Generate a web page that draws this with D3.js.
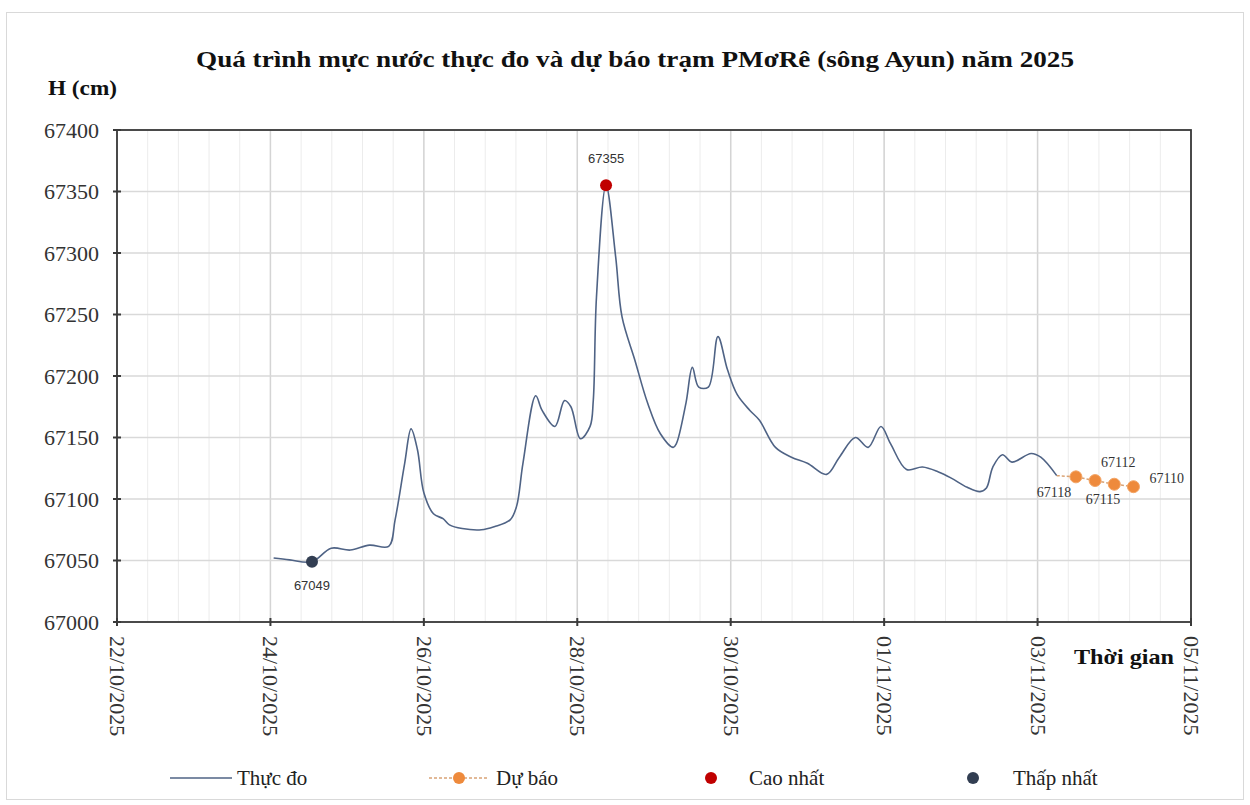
<!DOCTYPE html>
<html>
<head>
<meta charset="utf-8">
<script src="https://cdn.jsdelivr.net/npm/d3@7"></script>
<style>
  html, body { margin: 0; padding: 0; background: #fff; }
  svg text { font-family: "Liberation Serif", "Times New Roman", serif; }
</style>
</head>
<body>
<svg id="chart" width="1250" height="805"></svg>
<script>
// ---------------- DATA ----------------
const obsTime = [
  "24/10/2025 01:00","24/10/2025 06:00","24/10/2025 13:00","24/10/2025 19:00",
  "25/10/2025 01:00","25/10/2025 07:00","25/10/2025 13:00","25/10/2025 15:00",
  "25/10/2025 18:00","25/10/2025 20:00","25/10/2025 22:00","26/10/2025 00:00",
  "26/10/2025 03:00","26/10/2025 06:00","26/10/2025 08:00","26/10/2025 12:00",
  "26/10/2025 18:00","26/10/2025 22:00","27/10/2025 03:00","27/10/2025 05:00",
  "27/10/2025 07:00","27/10/2025 11:00","27/10/2025 13:00","27/10/2025 17:00",
  "27/10/2025 20:00","27/10/2025 22:00","28/10/2025 01:00","28/10/2025 04:00",
  "28/10/2025 05:00","28/10/2025 06:00","28/10/2025 09:00","28/10/2025 12:00",
  "28/10/2025 14:00","28/10/2025 18:00","28/10/2025 22:00","29/10/2025 02:00",
  "29/10/2025 06:00","29/10/2025 07:00","29/10/2025 10:00","29/10/2025 12:00",
  "29/10/2025 14:00","29/10/2025 17:00","29/10/2025 20:00","29/10/2025 23:00",
  "30/10/2025 02:00","30/10/2025 06:00","30/10/2025 09:00","30/10/2025 14:00",
  "30/10/2025 19:00","31/10/2025 00:00","31/10/2025 06:00","31/10/2025 10:00",
  "31/10/2025 15:00","31/10/2025 19:00","31/10/2025 23:00","01/11/2025 02:00",
  "01/11/2025 07:00","01/11/2025 12:00","01/11/2025 17:00","01/11/2025 21:00",
  "02/11/2025 02:00","02/11/2025 06:00","02/11/2025 08:00","02/11/2025 10:00",
  "02/11/2025 13:00","02/11/2025 16:00","02/11/2025 22:00","03/11/2025 01:00",
  "03/11/2025 06:00"
];
const obsValue = [
  67052, 67050.5, 67049, 67060,
  67058.5, 67062.5, 67061.5, 67083,
  67129, 67157, 67140, 67105,
  67088, 67084, 67079, 67076,
  67075, 67077.5, 67083, 67094,
  67129, 67184, 67172, 67159,
  67180, 67175, 67149, 67159,
  67180, 67264, 67355, 67297,
  67248, 67213, 67178, 67153,
  67142, 67145, 67178, 67207,
  67191, 67191, 67232, 67205,
  67185, 67172, 67164, 67142,
  67134, 67129, 67120, 67134,
  67150, 67142, 67159, 67145,
  67124, 67126, 67122, 67117,
  67109.5, 67106, 67109, 67126,
  67136, 67130, 67137, 67134,
  67119
];
const fcTime  = ["03/11/2025 12:00","03/11/2025 18:00","04/11/2025 00:00","04/11/2025 06:00"];
const fcValue = [67118, 67115, 67112, 67110];
const maxTime = "28/10/2025 09:00", maxValue = 67355;
const minTime = "24/10/2025 13:00", minValue = 67049;
const yTickValues = [67000, 67050, 67100, 67150, 67200, 67250, 67300, 67350, 67400];
const xTickLabels = ["22/10/2025","24/10/2025","26/10/2025","28/10/2025","30/10/2025","01/11/2025","03/11/2025","05/11/2025"];
const legendLabels = ["Thực đo", "Dự báo", "Cao nhất", "Thấp nhất"];
const titleText = "Quá trình mực nước thực đo và dự báo trạm PMơRê (sông Ayun) năm 2025";
const yAxisTitle = "H (cm)";
const xAxisTitle = "Thời gian";

// ---------------- LAYOUT ----------------
const parseT = d3.utcParse("%d/%m/%Y %H:%M");
const parseD = d3.utcParse("%d/%m/%Y");
const svg = d3.select("#chart");
const plot = { left: 117, right: 1191, top: 130, bottom: 622 };
const colObs = "#4f6385", colFc = "#ee8a3c", colMax = "#c00000", colMin = "#323e52";

const xDomain = [parseD(xTickLabels[0]), parseD(xTickLabels[xTickLabels.length - 1])];
const x = d3.scaleUtc().domain(xDomain).range([plot.left, plot.right]);
const y = d3.scaleLinear().domain([67000, 67400]).range([plot.bottom, plot.top]);

// outer frame
svg.append("rect").attr("x", 6.5).attr("y", 12.5).attr("width", 1237).attr("height", 787)
  .attr("fill", "#fff").attr("stroke", "#d9d9d9").attr("stroke-width", 1);

// minor vertical gridlines (every 0.4 day)
const dayMs = 86400000;
const minorTicks = d3.range(0, 14.0001, 0.4).map(d => new Date(xDomain[0].getTime() + d * dayMs));
svg.append("g").selectAll("line").data(minorTicks).join("line")
  .attr("x1", d => x(d)).attr("x2", d => x(d))
  .attr("y1", plot.top).attr("y2", plot.bottom)
  .attr("stroke", "#ececec").attr("stroke-width", 1);

// major vertical gridlines
const xTickDates = xTickLabels.map(parseD);
svg.append("g").selectAll("line").data(xTickDates).join("line")
  .attr("x1", d => x(d)).attr("x2", d => x(d))
  .attr("y1", plot.top).attr("y2", plot.bottom)
  .attr("stroke", "#d4d4d4").attr("stroke-width", 1.5);

// horizontal gridlines
svg.append("g").selectAll("line").data(yTickValues).join("line")
  .attr("x1", plot.left).attr("x2", plot.right)
  .attr("y1", d => y(d)).attr("y2", d => y(d))
  .attr("stroke", "#d9d9d9").attr("stroke-width", 1.5);

// plot frame
svg.append("rect").attr("x", plot.left).attr("y", plot.top)
  .attr("width", plot.right - plot.left).attr("height", plot.bottom - plot.top)
  .attr("fill", "none").attr("stroke", "#3a3a3a").attr("stroke-width", 1.8);

// Y axis
const yAxis = d3.axisLeft(y).tickValues(yTickValues).tickFormat(d3.format("d")).tickSize(0).tickPadding(18);
const gy = svg.append("g").attr("transform", `translate(${plot.left},0)`).call(yAxis);
gy.select(".domain").remove();
gy.selectAll("text").attr("font-size", 22).attr("fill", "#333")
  .style("font-family", "'Liberation Serif', serif");
svg.append("g").selectAll("line").data(yTickValues).join("line")
  .attr("x1", plot.left - 4).attr("x2", plot.left + 4)
  .attr("y1", d => y(d)).attr("y2", d => y(d))
  .attr("stroke", "#3a3a3a").attr("stroke-width", 2);

// X axis
const xAxis = d3.axisBottom(x).tickValues(xTickDates).tickSize(0)
  .tickFormat((d, i) => xTickLabels[i]);
const gx = svg.append("g").attr("transform", `translate(0,${plot.bottom})`).call(xAxis);
gx.select(".domain").remove();
gx.selectAll("text")
  .attr("font-size", 22).attr("fill", "#333")
  .style("font-family", "'Liberation Serif', serif")
  .attr("text-anchor", "start")
  .attr("transform", "translate(0,14) rotate(90)")
  .attr("x", 0).attr("y", 0).attr("dy", "0.34em");
svg.append("g").selectAll("line").data(xTickDates).join("line")
  .attr("x1", d => x(d)).attr("x2", d => x(d))
  .attr("y1", plot.bottom - 4).attr("y2", plot.bottom + 4)
  .attr("stroke", "#3a3a3a").attr("stroke-width", 2);

// Titles
svg.append("text").attr("x", 635).attr("y", 67).attr("text-anchor", "middle")
  .attr("font-size", 23).attr("font-weight", "bold").attr("fill", "#111")
  .attr("textLength", 878).attr("lengthAdjust", "spacingAndGlyphs").text(titleText);
svg.append("text").attr("x", 48).attr("y", 95)
  .attr("font-size", 22).attr("font-weight", "bold").attr("fill", "#111")
  .attr("textLength", 69).attr("lengthAdjust", "spacingAndGlyphs").text(yAxisTitle);
svg.append("text").attr("x", 1074).attr("y", 664)
  .attr("font-size", 22).attr("font-weight", "bold").attr("fill", "#111")
  .attr("textLength", 100).attr("lengthAdjust", "spacingAndGlyphs").text(xAxisTitle);

// Observed line
const obs = obsTime.map((t, i) => ({ t: parseT(t), v: obsValue[i] }));
const line = d3.line().x(d => x(d.t)).y(d => y(d.v)).curve(d3.curveCatmullRom.alpha(0.5));
svg.append("path").datum(obs).attr("d", line)
  .attr("fill", "none").attr("stroke", colObs).attr("stroke-width", 1.6);

// Forecast (dashed, connected to last observation)
const fc = fcTime.map((t, i) => ({ t: parseT(t), v: fcValue[i] }));
const fcLine = [obs[obs.length - 1]].concat(fc);
svg.append("path").datum(fcLine).attr("d", d3.line().x(d => x(d.t)).y(d => y(d.v)))
  .attr("fill", "none").attr("stroke", "#d9a375").attr("stroke-width", 1.5)
  .attr("stroke-dasharray", "3,2");
svg.append("g").selectAll("circle").data(fc).join("circle")
  .attr("cx", d => x(d.t)).attr("cy", d => y(d.v)).attr("r", 6)
  .attr("fill", colFc).attr("stroke", "#f3a566").attr("stroke-width", 1);

// forecast labels
const fcLabelOffset = [[-22, 20, "middle"], [8, 23, "middle"], [4, -17, "middle"], [16, -4, "start"]];
svg.append("g").selectAll("text").data(fc).join("text")
  .attr("x", (d, i) => x(d.t) + fcLabelOffset[i][0])
  .attr("y", (d, i) => y(d.v) + fcLabelOffset[i][1])
  .attr("text-anchor", (d, i) => fcLabelOffset[i][2])
  .attr("font-size", 14).attr("fill", "#333").text(d => d.v);

// Max / Min points
const maxP = { t: parseT(maxTime), v: maxValue };
const minP = { t: parseT(minTime), v: minValue };
svg.append("circle").attr("cx", x(maxP.t)).attr("cy", y(maxP.v)).attr("r", 6).attr("fill", colMax);
svg.append("text").attr("x", x(maxP.t)).attr("y", y(maxP.v) - 22).attr("text-anchor", "middle")
  .attr("font-size", 13).style("font-family", "'Liberation Sans', Arial, sans-serif")
  .attr("fill", "#333").text(maxValue);
svg.append("circle").attr("cx", x(minP.t)).attr("cy", y(minP.v)).attr("r", 6).attr("fill", colMin);
svg.append("text").attr("x", x(minP.t)).attr("y", y(minP.v) + 28).attr("text-anchor", "middle")
  .attr("font-size", 13).style("font-family", "'Liberation Sans', Arial, sans-serif")
  .attr("fill", "#333").text(minValue);

// Legend
const ly = 778;
const lg = svg.append("g");
lg.append("line").attr("x1", 170).attr("x2", 232).attr("y1", ly).attr("y2", ly)
  .attr("stroke", colObs).attr("stroke-width", 1.6);
lg.append("line").attr("x1", 429).attr("x2", 489).attr("y1", ly).attr("y2", ly)
  .attr("stroke", "#d9a375").attr("stroke-width", 1.5).attr("stroke-dasharray", "3,2");
lg.append("circle").attr("cx", 459).attr("cy", ly).attr("r", 6).attr("fill", colFc);
lg.append("circle").attr("cx", 711).attr("cy", ly).attr("r", 6).attr("fill", colMax);
lg.append("circle").attr("cx", 973).attr("cy", ly).attr("r", 6).attr("fill", colMin);
const legendX = [237, 496, 749, 1013];
lg.selectAll("text.lt").data(legendLabels).join("text").attr("class", "lt")
  .attr("x", (d, i) => legendX[i]).attr("y", ly + 7)
  .attr("font-size", 21).attr("fill", "#222").text(d => d);
</script>
</body>
</html>
